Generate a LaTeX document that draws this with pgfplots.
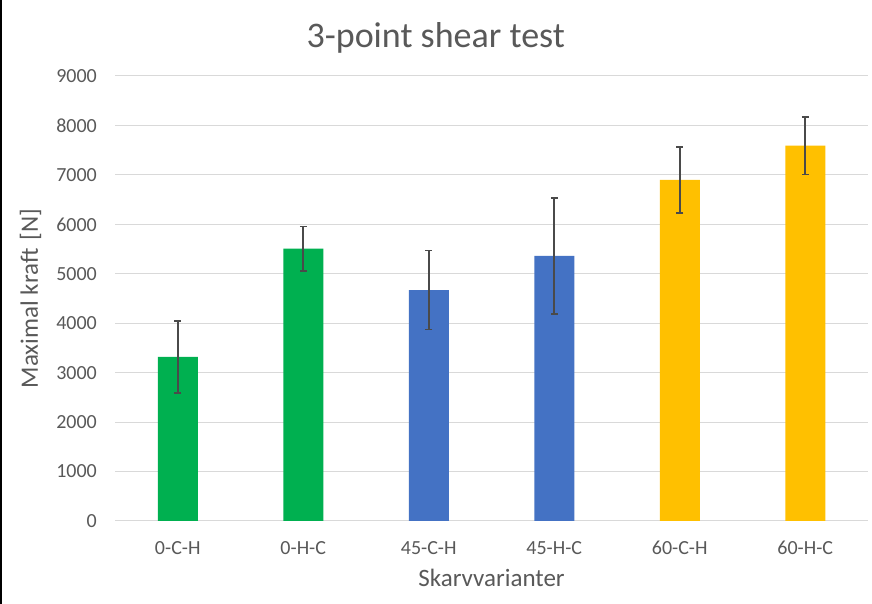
\documentclass[border=0pt]{standalone}
\usepackage{pgfplots}
\pgfplotsset{compat=1.18}
\usepackage{fontspec}
\setmainfont{Carlito}
\definecolor{txt}{HTML}{595959}
\definecolor{gridc}{HTML}{D9D9D9}
\definecolor{cgreen}{HTML}{00B050}
\definecolor{cblue}{HTML}{4472C4}
\definecolor{cgold}{HTML}{FFC000}
\definecolor{errc}{HTML}{4A4A4A}
\begin{document}
\begin{tikzpicture}
\useasboundingbox (0,0) rectangle (872bp,604bp);
\fill[white] (0,0) rectangle (872bp,604bp);
\fill[black] (0,0) rectangle (2bp,604bp);
\begin{axis}[
  at={(115bp,83bp)}, anchor=south west,
  scale only axis, width=753bp, height=445bp,
  xmin=-0.5, xmax=5.5, ymin=0, ymax=9000,
  ytick={0,1000,...,9000},
  xtick={0,1,2,3,4,5},
  xticklabels={0-C-H,0-H-C,45-C-H,45-H-C,60-C-H,60-H-C},
  axis line style={draw=none},
  major tick length=0pt,
  ymajorgrids, grid style={gridc, line width=1bp},
  /pgf/number format/assume math mode=true,
  scaled y ticks=false,
  yticklabel style={font=\fontsize{20bp}{24bp}\selectfont, text=txt, anchor=east, inner sep=0pt, xshift=-18bp, /pgf/number format/1000 sep={}},
  xticklabel style={font=\fontsize{20bp}{24bp}\selectfont, text=txt, anchor=center, inner sep=0pt, yshift=-27bp},
  xlabel={Skarvvarianter},
  ylabel={Maximal kraft\,\,[N]},
  xlabel style={font=\fontsize{25bp}{30bp}\selectfont, text=txt, at={(axis description cs:0.5,-0.128)}, anchor=center, inner sep=0pt},
  ylabel style={font=\fontsize{25bp}{30bp}\selectfont, text=txt, at={(axis description cs:-0.112,0.5)}, anchor=center, inner sep=0pt},
  title={3-point shear test},
  title style={font=\fontsize{36bp}{42bp}\selectfont, text=txt, at={(axis description cs:0.426,1.072)}, anchor=center, inner sep=0pt},
  ybar, bar width=40bp, bar shift=0pt,
  error bars/y dir=both, error bars/y explicit,
  error bars/error bar style={errc, line width=1.6bp},
  error bars/error mark options={errc, rotate=90, mark size=3.5bp, line width=1.6bp},
]
\addplot[fill=cgreen, draw=none] table[x=x, y=y, y error=e] {
x y e
0 3320 730
1 5510 450
};
\addplot[fill=cblue, draw=none] table[x=x, y=y, y error=e] {
x y e
2 4670 800
3 5360 1170
};
\addplot[fill=cgold, draw=none] table[x=x, y=y, y error=e] {
x y e
4 6900 670
5 7590 580
};
\end{axis}
\end{tikzpicture}
\end{document}
